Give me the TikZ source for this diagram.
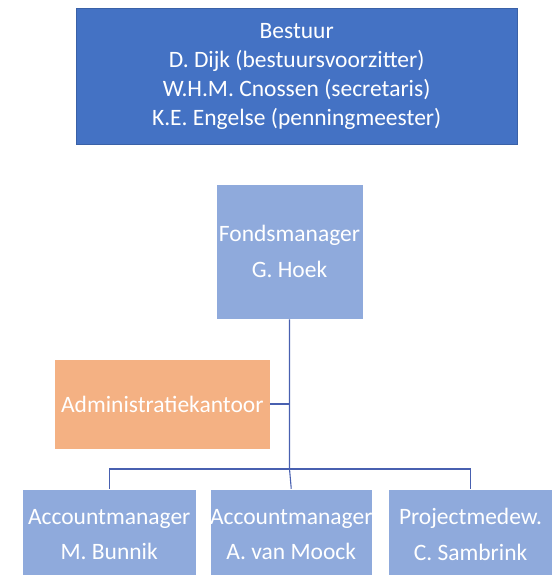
\documentclass[tikz,border=0pt]{standalone}
\usepackage{fontspec}
\setmainfont{Carlito}
\usetikzlibrary{positioning}
\definecolor{boardblue}{RGB}{68,114,196}
\definecolor{staffblue}{RGB}{143,170,220}
\definecolor{officeorange}{RGB}{244,177,131}
\definecolor{linkblue}{RGB}{72,96,176}
\tikzset{
	x=1pt, y=-1pt, % one unit is one pixel of the chart, y runs downwards
	every node/.style={text=white, align=center, inner sep=0pt}, % white centred text in every box
	board/.style={fill=boardblue, draw=boardblue!85!black, line width=0.6pt, font=\fontsize{23.5}{29}\selectfont}, % the top box
	staff/.style={fill=staffblue, draw=white, line width=0.6pt, font=\fontsize{23.5}{35.5}\selectfont}, % the light blue boxes
	office/.style={staff, fill=officeorange}, % the orange box on the side
	link/.style={draw=linkblue, line width=1.1pt}, % the lines between the boxes
}

\begin{document}
\begin{tikzpicture}
	\useasboundingbox (0,0) rectangle (551,575);
	\node[board, minimum width=440.6, minimum height=135.7] (board) at (296.7,76.2) {Bestuur\\D. Dijk (bestuursvoorzitter)\\W.H.M. Cnossen (secretaris)\\K.E. Engelse (penningmeester)};
	\node[staff, minimum width=147, minimum height=135] (fm) at (289.5,251.5) {Fondsmanager\\G. Hoek};
	\node[office, minimum width=215.4, minimum height=90] (admin) at (162.3,404) {Administratiekantoor};
	\node[staff, minimum width=174.5, minimum height=91] (am1) at (109.2,534.5) {Accountmanager\\M. Bunnik};
	\node[staff, minimum width=160.5, minimum height=91, right=13 of am1] (am2) {Accountmanager\\A. van Moock};
	\node[staff, minimum width=165, minimum height=91, right=15 of am2] (pm) {Projectmedew.\\C. Sambrink};
	\coordinate (hub) at (289.5,469);
	\draw[link] (fm.south) -- (hub) -- (am2.north);
	\draw[link] (admin.east) -- (admin.east -| fm.south);
	\draw[link] (am1.north) |- (hub) -| (pm.north);
\end{tikzpicture}
\end{document}
